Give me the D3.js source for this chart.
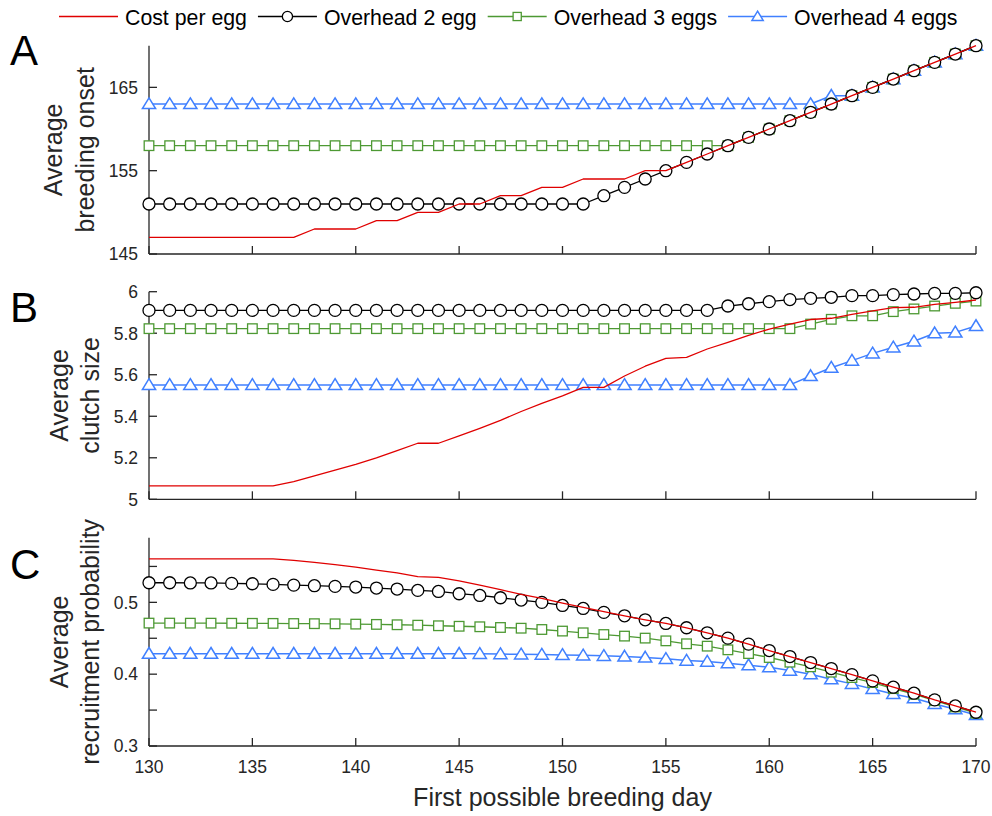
<!DOCTYPE html>
<html>
<head>
<meta charset="utf-8">
<script src="https://cdn.jsdelivr.net/npm/d3@7/dist/d3.min.js"></script>
<style>
  html, body { margin: 0; padding: 0; background: #fff; }
  svg { display: block; }
  text { font-family: "Liberation Sans", Arial, Helvetica, sans-serif; }
</style>
</head>
<body>
<svg id="chart" width="992" height="816"></svg>
<script>
// First possible breeding day (x categories)
const days = [130,131,132,133,134,135,136,137,138,139,140,141,142,143,144,145,146,147,148,149,
              150,151,152,153,154,155,156,157,158,159,160,161,162,163,164,165,166,167,168,169,170];

const seriesNames = ["Cost per egg", "Overhead 2 egg", "Overhead 3 eggs", "Overhead 4 eggs"];

// Panel A: average breeding onset
const onsetCost  = [147,147,147,147,147,147,147,147,148,148,148,149,149,150,150,151,151,152,152,153,
                    153,154,154,154,155,155,156,157,158,159,160,161,162,163,164,165,166,167,168,169,170];
const onsetOver2 = [151,151,151,151,151,151,151,151,151,151,151,151,151,151,151,151,151,151,151,151,
                    151,151,152,153,154,155,156,157,158,159,160,161,162,163,164,165,166,167,168,169,170];
const onsetOver3 = [158,158,158,158,158,158,158,158,158,158,158,158,158,158,158,158,158,158,158,158,
                    158,158,158,158,158,158,158,158,158,159,160,161,162,163,164,165,166,167,168,169,170];
const onsetOver4 = [163,163,163,163,163,163,163,163,163,163,163,163,163,163,163,163,163,163,163,163,
                    163,163,163,163,163,163,163,163,163,163,163,163,163,164,164,165,166,167,168,169,170];

// Panel B: average clutch size
const clutchCost  = [5.065,5.065,5.065,5.065,5.065,5.065,5.065,5.085,5.113,5.141,5.168,5.199,5.234,5.27,5.27,
                     5.306,5.342,5.38,5.423,5.462,5.498,5.539,5.539,5.594,5.641,5.679,5.684,5.724,5.756,5.79,
                     5.82,5.844,5.866,5.872,5.891,5.908,5.923,5.925,5.939,5.949,5.96];
const clutchOver2 = [5.91,5.91,5.91,5.91,5.91,5.91,5.91,5.91,5.91,5.91,5.91,5.91,5.91,5.91,5.91,5.91,5.91,5.91,
                     5.91,5.91,5.91,5.91,5.91,5.91,5.91,5.91,5.91,5.91,5.931,5.942,5.952,5.962,5.968,5.973,
                     5.981,5.981,5.986,5.989,5.992,5.992,5.995];
const clutchOver3 = [5.822,5.822,5.822,5.822,5.822,5.822,5.822,5.822,5.822,5.822,5.822,5.822,5.822,5.822,5.822,
                     5.822,5.822,5.822,5.822,5.822,5.822,5.822,5.822,5.822,5.822,5.822,5.822,5.822,5.822,5.822,
                     5.822,5.822,5.844,5.867,5.884,5.884,5.904,5.917,5.931,5.944,5.955];
const clutchOver4 = [5.551,5.551,5.551,5.551,5.551,5.551,5.551,5.551,5.551,5.551,5.551,5.551,5.551,5.551,5.551,
                     5.551,5.551,5.551,5.551,5.551,5.551,5.551,5.551,5.551,5.551,5.551,5.551,5.551,5.551,5.551,
                     5.551,5.551,5.594,5.634,5.668,5.703,5.732,5.761,5.8,5.804,5.835];

// Panel C: average recruitment probability
const recruitCost  = [0.5604,0.5604,0.5604,0.5604,0.5604,0.5604,0.5604,0.5585,0.5557,0.5525,0.549,0.545,0.541,
                      0.5357,0.5348,0.530,0.524,0.5176,0.511,0.5055,0.499,0.493,0.487,0.4813,0.4757,0.4706,
                      0.4646,0.4576,0.4502,0.4418,0.4329,0.4245,0.4162,0.4078,0.3994,0.3907,0.3819,0.3735,
                      0.3642,0.3558,0.347];
const recruitOver2 = [0.5273,0.5273,0.527,0.527,0.5264,0.5259,0.525,0.524,0.5232,0.5222,0.5213,0.5199,0.5185,
                      0.5166,0.5152,0.512,0.5096,0.5064,0.5032,0.500,0.4957,0.4915,0.486,0.4813,0.4757,0.4706,
                      0.4646,0.4576,0.4502,0.4418,0.4329,0.4245,0.4162,0.4078,0.3994,0.3907,0.3819,0.3735,
                      0.3642,0.3558,0.347];
const recruitOver3 = [0.4711,0.4711,0.471,0.471,0.4709,0.4708,0.4707,0.4705,0.4703,0.4701,0.4697,0.4693,0.4688,
                      0.4682,0.4674,0.4667,0.466,0.465,0.464,0.4622,0.460,0.4576,0.4552,0.453,0.4502,0.4464,
                      0.4423,0.439,0.4339,0.4287,0.4232,0.4167,0.4102,0.4028,0.3953,0.3883,0.3799,0.3721,
                      0.3632,0.3544,0.3456];
const recruitOver4 = [0.4285,0.4285,0.4285,0.4285,0.4285,0.4285,0.4285,0.4285,0.4285,0.4285,0.4285,0.4285,0.4285,
                      0.4285,0.4285,0.4285,0.4283,0.428,0.4277,0.4273,0.4268,0.4262,0.4255,0.4246,0.4232,0.4213,
                      0.419,0.4176,0.4153,0.4125,0.4097,0.405,0.4,0.393,0.3865,0.3795,0.3725,0.3665,0.3586,
                      0.3512,0.3432];

// Axis ticks
const xTicks = [130,135,140,145,150,155,160,165,170];
const onsetTicks = [145,155,165];
const clutchTicks = [5,5.2,5.4,5.6,5.8,6];
const recruitTicks = [0.3,0.35,0.4,0.45,0.5,0.55];
const recruitLabelled = [0.3,0.4,0.5];

// ---- styling ----
const AXIS = "#262626";
const styles = [
  { color: "#e00000", marker: null,       width: 1.3 },
  { color: "#000000", marker: "circle",   width: 1.3 },
  { color: "#4d9933", marker: "square",   width: 1.3 },
  { color: "#4080ff", marker: "triangle", width: 1.5 }
];

const svg = d3.select("#chart");
const x = d3.scaleLinear().domain([130, 170]).range([149, 976]);

const panels = [
  { letter: "A", letterY: 65, top: 45.7, bottom: 254, domain: [145, 170],
    ticks: onsetTicks, labelled: onsetTicks, fmt: d3.format("d"),
    ylabel: ["Average", "breeding onset"], labelX: [62, 93.5],
    series: [onsetCost, onsetOver2, onsetOver3, onsetOver4] },
  { letter: "B", letterY: 322, top: 291.7, bottom: 499.3, domain: [5, 6],
    ticks: clutchTicks, labelled: clutchTicks, fmt: d => (d === 5 || d === 6) ? d3.format("d")(d) : d3.format(".1f")(d),
    ylabel: ["Average", "clutch size"], labelX: [67.5, 99],
    series: [clutchCost, clutchOver2, clutchOver3, clutchOver4] },
  { letter: "C", letterY: 579, top: 537.7, bottom: 746, domain: [0.3, 0.59],
    ticks: recruitTicks, labelled: recruitLabelled, fmt: d3.format(".1f"),
    ylabel: ["Average", "recruitment probability"], labelX: [67.5, 99],
    series: [recruitCost, recruitOver2, recruitOver3, recruitOver4], xLabels: true }
];

function drawMarker(g, type, cx, cy, color, scale) {
  const s = scale || 1;
  if (type === "circle") {
    g.append("circle").attr("cx", cx).attr("cy", cy).attr("r", 6 * s)
      .attr("fill", "#fff").attr("stroke", color).attr("stroke-width", 1.3);
  } else if (type === "square") {
    const h = 4.8 * s;
    g.append("rect").attr("x", cx - h).attr("y", cy - h).attr("width", 2 * h).attr("height", 2 * h)
      .attr("fill", "#fff").attr("stroke", color).attr("stroke-width", 1.3);
  } else if (type === "triangle") {
    const w = 6.6 * s, up = 6.2 * s, dn = 4.6 * s;
    g.append("path")
      .attr("d", `M${cx},${cy - up}L${cx + w},${cy + dn}L${cx - w},${cy + dn}Z`)
      .attr("fill", "#fff").attr("stroke", color).attr("stroke-width", 1.5)
      .attr("stroke-linejoin", "miter");
  }
}

panels.forEach(p => {
  const y = d3.scaleLinear().domain(p.domain).range([p.bottom, p.top]);
  const g = svg.append("g");

  // y axis (ticks pointing inward)
  g.append("line").attr("x1", x(130)).attr("x2", x(130)).attr("y1", p.top).attr("y2", p.bottom)
    .attr("stroke", AXIS).attr("stroke-width", 1.3);
  g.selectAll(".ytick").data(p.ticks).enter().append("line")
    .attr("x1", x(130)).attr("x2", x(130) + 8)
    .attr("y1", d => y(d)).attr("y2", d => y(d))
    .attr("stroke", AXIS).attr("stroke-width", 1.3);
  g.selectAll(".ylab").data(p.labelled).enter().append("text")
    .attr("x", x(130) - 11).attr("y", d => y(d)).attr("dy", "0.36em")
    .attr("text-anchor", "end").attr("font-size", 17.5).attr("fill", AXIS)
    .text(p.fmt);

  // x axis
  g.append("line").attr("x1", x(130)).attr("x2", x(170)).attr("y1", p.bottom).attr("y2", p.bottom)
    .attr("stroke", AXIS).attr("stroke-width", 1.3);
  g.selectAll(".xtick").data(xTicks).enter().append("line")
    .attr("x1", d => x(d)).attr("x2", d => x(d))
    .attr("y1", p.bottom).attr("y2", p.bottom - 8)
    .attr("stroke", AXIS).attr("stroke-width", 1.3);
  if (p.xLabels) {
    g.selectAll(".xlab").data(xTicks).enter().append("text")
      .attr("x", d => x(d)).attr("y", 773)
      .attr("text-anchor", "middle").attr("font-size", 17.5).attr("fill", AXIS)
      .text(d3.format("d"));
  }

  // y label (two lines, rotated)
  const yc = (p.top + p.bottom) / 2;
  p.ylabel.forEach((t, i) => {
    g.append("text")
      .attr("transform", `translate(${p.labelX[i]},${yc}) rotate(-90)`)
      .attr("text-anchor", "middle").attr("font-size", 25).attr("fill", AXIS)
      .text(t);
  });

  // panel letter
  g.append("text").attr("x", 10).attr("y", p.letterY)
    .attr("font-size", 42).attr("fill", "#000").text(p.letter);

  // series: drawn back to front (blue, green, black, red)
  const order = [3, 2, 1, 0];
  order.forEach(si => {
    const st = styles[si];
    const pts = days.map((d, i) => ({ day: d, v: p.series[si][i] }));
    const line = d3.line().x(d => x(d.day)).y(d => y(d.v));
    g.append("path").datum(pts).attr("d", line)
      .attr("fill", "none").attr("stroke", st.color).attr("stroke-width", st.width)
      .attr("stroke-linejoin", "round");
    if (st.marker) {
      const mg = g.append("g");
      pts.forEach(d => drawMarker(mg, st.marker, x(d.day), y(d.v), st.color));
    }
  });
});

// x axis title
svg.append("text").attr("x", (x(130) + x(170)) / 2).attr("y", 806)
  .attr("text-anchor", "middle").attr("font-size", 25).attr("fill", AXIS)
  .text("First possible breeding day");

// legend across the top
const legend = svg.append("g");
let lx = 59;
const ly = 16.5;
seriesNames.forEach((name, i) => {
  const st = styles[i];
  legend.append("line").attr("x1", lx).attr("x2", lx + 59).attr("y1", ly).attr("y2", ly)
    .attr("stroke", st.color).attr("stroke-width", st.width);
  if (st.marker) drawMarker(legend, st.marker, lx + 29.5, ly, st.color, 0.85);
  const t = legend.append("text").attr("x", lx + 66).attr("y", ly + 8.5)
    .attr("font-size", 21.3).attr("fill", "#000").text(name);
  lx = lx + 66 + t.node().getComputedTextLength() + 11;
});
</script>
</body>
</html>
